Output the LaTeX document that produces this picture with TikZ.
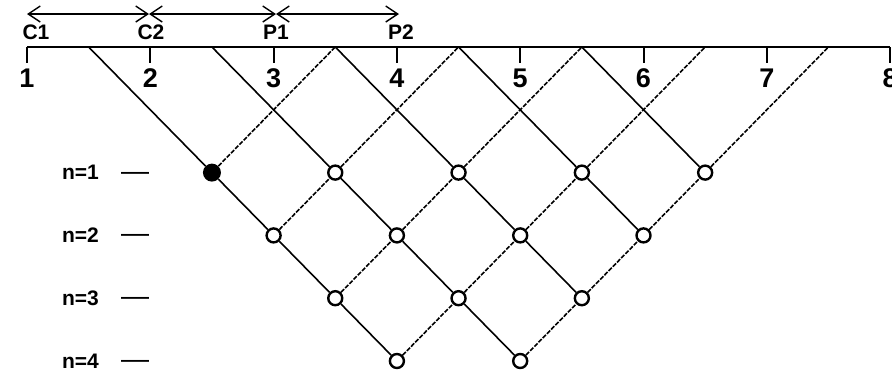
\documentclass[tikz,border=0pt]{standalone}
\usepackage{fontspec}
\setmainfont{Liberation Sans}
\usetikzlibrary{arrows.meta,calc}
\begin{document}
\begin{tikzpicture}[x=1pt,y=-1pt,
  lattice/.style={line width=1.6pt},
  uplattice/.style={line width=1.6pt, dash pattern=on 4.5pt off 1.5pt},
  site/.style={circle,draw,line width=2.4pt,minimum size=14pt,inner sep=0pt,fill=white,
    path picture={\fill (path picture bounding box.center) circle (1.2pt);}},
  firstsite/.style={circle,fill=black,minimum size=18pt,inner sep=0pt},
  ticklabel/.style={font=\bfseries\fontsize{27}{27}\selectfont,inner sep=0pt},
  toplabel/.style={font=\bfseries\fontsize{21}{21}\selectfont,inner sep=0pt},
  rowlabel/.style={font=\bfseries\fontsize{21}{21}\selectfont,inner sep=0pt,anchor=east},
  rowdash/.style={font=\fontsize{28}{28}\selectfont,inner sep=0pt,anchor=base},
  axisline/.style={line width=1.6pt},
  tickmark/.style={line width=2pt},
  span/.style={line width=1.2pt,{Straight Barb[length=12pt,width=16pt,line width=1.4pt]}-{Straight Barb[length=12pt,width=16pt,line width=1.4pt]}},
]
\useasboundingbox (0,0) rectangle (892,373);

% axis ticks and labels
\foreach \i in {1,...,8}{
  \coordinate (t\i) at ({27+(\i-1)*123.3},47);
  \node[ticklabel] (tl\i) at ({27+(\i-1)*123.3},78) {\i};
}
\draw[axisline] (t1) -- (t8);
\foreach \i in {1,...,8}{
  \draw[tickmark] (t\i) -- ++(0,16);
}

% half-step points on the axis
\foreach \k in {3,5,...,15}{
  \coordinate (a\k) at ({27+(\k-2)*61.65},47);
}

% top labels and spans
\node[toplabel] (C1) at (36,32.5) {C1};
\node[toplabel] (C2) at (151,32.5) {C2};
\node[toplabel] (P1) at (276,32.5) {P1};
\node[toplabel] (P2) at (401,32.5) {P2};
\coordinate (sC1) at (27,14);
\coordinate (sC2) at (149,14);
\coordinate (sP1) at (276,14);
\coordinate (sP2) at (399,14);
\draw[span] (sC1) -- (sC2);
\draw[span] (sC2) -- (sP1);
\draw[span] (sP1) -- (sP2);

% row labels
\foreach \n in {1,...,4}{
  \node[rowlabel] (n\n) at (99,{47+(\n+1)*62.8}) {n=\n};
  \node[rowdash] (d\n) at (135,{47+(\n+1)*62.8+7.5}) {—};
}

% lattice sites
\node[firstsite] (r1-5) at ({27+3*61.65},{47+2*62.8}) {};
\foreach \k in {7,9,11,13}{
  \node[site] (r1-\k) at ({27+(\k-2)*61.65},{47+2*62.8}) {};
}
\foreach \k in {6,8,10,12}{
  \node[site] (r2-\k) at ({27+(\k-2)*61.65},{47+3*62.8}) {};
}
\foreach \k in {7,9,11}{
  \node[site] (r3-\k) at ({27+(\k-2)*61.65},{47+4*62.8}) {};
}
\foreach \k in {8,10}{
  \node[site] (r4-\k) at ({27+(\k-2)*61.65},{47+5*62.8}) {};
}

% down-right lines
\draw[lattice] (a3) -- (r1-5) -- (r2-6) -- (r3-7) -- (r4-8);
\draw[lattice] (a5) -- (r1-7) -- (r2-8) -- (r3-9) -- (r4-10);
\draw[lattice] (a7) -- (r1-9) -- (r2-10) -- (r3-11);
\draw[lattice] (a9) -- (r1-11) -- (r2-12);
\draw[lattice] (a11) -- (r1-13);

% up-right lines
\draw[uplattice] (r1-5) -- (a7);
\draw[uplattice] (r2-6) -- (r1-7) -- (a9);
\draw[uplattice] (r3-7) -- (r2-8) -- (r1-9) -- (a11);
\draw[uplattice] (r4-8) -- (r3-9) -- (r2-10) -- (r1-11) -- (a13);
\draw[uplattice] (r4-10) -- (r3-11) -- (r2-12) -- (r1-13) -- (a15);
\end{tikzpicture}
\end{document}
